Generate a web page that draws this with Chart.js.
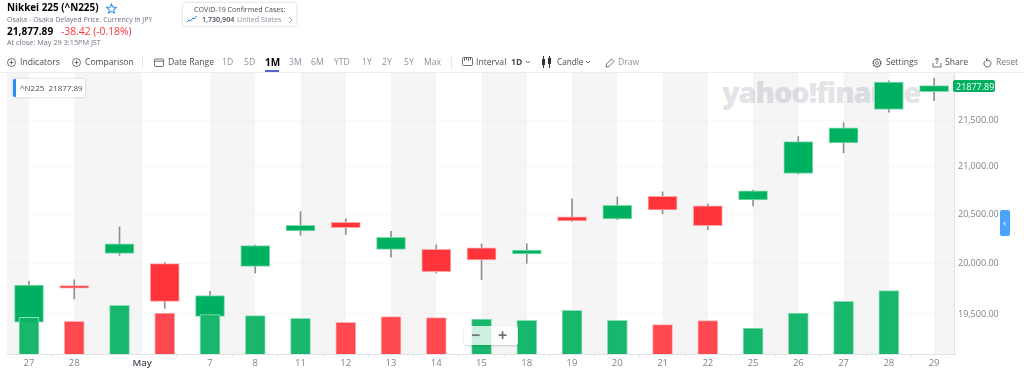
<!DOCTYPE html>
<html>
<head>
<meta charset="utf-8">
<title>Nikkei 225</title>
<script src="https://cdn.jsdelivr.net/npm/chart.js@4/dist/chart.umd.min.js"></script>
<style>
  html, body { margin: 0; padding: 0; background: #fff; }
  body { width: 1024px; height: 375px; overflow: hidden; position: relative; font-family: "Open Sans", sans-serif; color: #464e56; }
  #chart { position: absolute; left: 0; top: 0; z-index: 1; }
  .t { position: absolute; white-space: nowrap; z-index: 2; line-height: 1; }
  .tb { font-size: 8.6px; top: 57.5px; color: #464e56; }
  .rng { font-size: 8.6px; top: 57.5px; color: #8a939c; }
  svg { position: absolute; z-index: 2; overflow: visible; }
  #watermark { position: absolute; z-index: 0; left: 722px; top: 72px; font: 800 29px "Open Sans", sans-serif; letter-spacing: -1.1px; color: #e2e4e8; white-space: nowrap; }
  #rule { position: absolute; left: 0; top: 72px; width: 1024px; height: 1px; background: #ebedf0; z-index: 2; }
</style>
</head>
<body>
<div id="watermark">yahoo!finance</div>
<canvas id="chart" width="1024" height="375"></canvas>

<div class="t" style="left:7px;top:3px;font-size:9.900px;font-weight:700;color:#000">Nikkei 225 (^N225)</div>
<svg style="left:106px;top:3px" width="11" height="11" viewBox="0 0 24 24"><path d="M12 2l3 7 7.500 .6-5.700 4.900 1.800 7.300L12 18l-6.600 3.800 1.800-7.300L1.500 9.600 9 9z" fill="none" stroke="#2a8cf0" stroke-width="2.200"/></svg>
<div class="t" style="left:7px;top:15.500px;font-size:7px;color:#6c7580">Osaka - Osaka Delayed Price. Currency in JPY</div>
<div class="t" style="left:7px;top:25.500px;font-size:10.100px;font-weight:700;color:#000">21,877.89</div>
<div class="t" style="left:61px;top:25.500px;font-size:10.300px;color:#ff333a">-38.42 (-0.18%)</div>
<div class="t" style="left:7px;top:38.500px;font-size:7.300px;color:#6c7580">At close: May 29 3:15PM JST</div>

<div style="position:absolute;left:183px;top:3px;width:113px;height:23px;border-radius:2px;box-shadow:0 0 3px rgba(0,0,0,.22);z-index:2"></div>
<div class="t" style="left:194px;top:5.500px;font-size:7.100px;color:#464e56">COVID-19 Confirmed Cases:</div>
<svg style="left:187px;top:16px" width="10" height="7" viewBox="0 0 10 7"><path d="M0 6l2-2 1.500 1 2.500-3 1 1 2.500-3" fill="none" stroke="#2a7de1" stroke-width="1"/></svg>
<div class="t" style="left:202px;top:16px;font-size:7.100px;font-weight:600;color:#464e56">1,730,904</div>
<div class="t" style="left:237px;top:16px;font-size:7.100px;color:#8a939c">United States</div>
<svg style="left:288px;top:16px" width="5" height="8" viewBox="0 0 5 8"><path d="M1 1l3 3-3 3" fill="none" stroke="#a6adb5" stroke-width="1"/></svg>

<svg style="left:7px;top:58px" width="9" height="9" viewBox="0 0 9 9"><circle cx="4.500" cy="4.500" r="4" fill="none" stroke="#464e56" stroke-width=".8"/><path d="M4.500 2.500v4M2.500 4.500h4" stroke="#464e56" stroke-width=".8"/></svg>
<div class="t tb" style="left:20px">Indicators</div>
<svg style="left:72px;top:58px" width="9" height="9" viewBox="0 0 9 9"><circle cx="4.500" cy="4.500" r="4" fill="none" stroke="#464e56" stroke-width=".8"/><path d="M4.500 2.500v4M2.500 4.500h4" stroke="#464e56" stroke-width=".8"/></svg>
<div class="t tb" style="left:85px">Comparison</div>
<div style="position:absolute;left:142px;top:56px;width:1px;height:13px;background:#e6e8eb;z-index:2"></div>
<svg style="left:154px;top:58px" width="10" height="9" viewBox="0 0 10 9"><rect x=".5" y="1" width="9" height="7.500" rx="1" fill="none" stroke="#464e56" stroke-width=".8"/><path d="M.5 3.200h9" stroke="#464e56" stroke-width=".8"/></svg>
<div class="t tb" style="left:168px">Date Range</div>
<div class="t rng" style="left:222px">1D</div>
<div class="t rng" style="left:244px">5D</div>
<div class="t rng" style="left:265px;font-size:10px;top:57px;font-weight:700;color:#000">1M</div>
<div style="position:absolute;left:265px;top:70px;width:14px;height:2px;background:#5b5fcf;z-index:3"></div>
<div class="t rng" style="left:289px">3M</div>
<div class="t rng" style="left:311px">6M</div>
<div class="t rng" style="left:334px">YTD</div>
<div class="t rng" style="left:362px">1Y</div>
<div class="t rng" style="left:382px">2Y</div>
<div class="t rng" style="left:404px">5Y</div>
<div class="t rng" style="left:424px">Max</div>
<div style="position:absolute;left:451px;top:56px;width:1px;height:13px;background:#e6e8eb;z-index:2"></div>
<svg style="left:462px;top:57px" width="11" height="9" viewBox="0 0 11 9"><rect x=".5" y=".5" width="10" height="8" rx="1" fill="none" stroke="#464e56" stroke-width=".8"/><path d="M2.500 .5v3.500M4.500 .5v2.500M6.500 .5v3.500M8.500 .5v2.500" stroke="#464e56" stroke-width=".8"/></svg>
<div class="t tb" style="left:476px">Interval</div>
<div class="t tb" style="left:511px;font-weight:700">1D</div>
<svg style="left:525px;top:60px" width="6" height="4" viewBox="0 0 6 4"><path d="M1 1l2 2 2-2" fill="none" stroke="#464e56" stroke-width=".8"/></svg>
<svg style="left:541px;top:56px" width="11" height="12" viewBox="0 0 11 12"><path d="M2.500 0v12M8.500 0v12" stroke="#333" stroke-width="1"/><rect x="1" y="3" width="3" height="6" fill="#333"/><rect x="7" y="2" width="3" height="6" fill="#333"/></svg>
<div class="t tb" style="left:557px;font-size:8.200px;top:58px">Candle</div>
<svg style="left:585px;top:60px" width="6" height="4" viewBox="0 0 6 4"><path d="M1 1l2 2 2-2" fill="none" stroke="#464e56" stroke-width=".8"/></svg>
<svg style="left:605px;top:58px" width="10" height="10" viewBox="0 0 10 10"><path d="M1 9l.6-3L6.500 1l2.500 2.500-5 5z" fill="none" stroke="#464e56" stroke-width=".8"/></svg>
<div class="t rng" style="left:618px">Draw</div>

<svg style="left:872px;top:58px" width="10" height="10" viewBox="0 0 10 10"><circle cx="5" cy="5" r="3.800" fill="none" stroke="#464e56" stroke-width="1.400" stroke-dasharray="1.500 .6"/><circle cx="5" cy="5" r="1.500" fill="none" stroke="#464e56" stroke-width=".7"/></svg>
<div class="t tb" style="left:886px">Settings</div>
<svg style="left:932px;top:57px" width="10" height="11" viewBox="0 0 10 11"><path d="M5 7V1M3 3l2-2 2 2M1 6v4h8V6" fill="none" stroke="#464e56" stroke-width=".8"/></svg>
<div class="t tb" style="left:945px">Share</div>
<svg style="left:983px;top:57px" width="9" height="11" viewBox="0 0 9 11"><path d="M2 4a3.500 3.500 0 1 0 2.500-1H3M4.500 1L3 3l1.500 1.500" fill="none" stroke="#464e56" stroke-width=".9"/></svg>
<div class="t tb" style="left:996px;color:#6c7580">Reset</div>
<div id="rule"></div>

<div style="position:absolute;left:13px;top:79px;width:72px;height:18px;background:#fff;border-radius:2px;box-shadow:0 0 3px rgba(0,0,0,.2);z-index:2"></div>
<div style="position:absolute;left:13px;top:79px;width:3px;height:18px;background:#2a8cf0;border-radius:2px 0 0 2px;z-index:2"></div>
<div class="t" style="left:20px;top:84px;font-size:8px;color:#464e56">^N225&nbsp;&nbsp;21877.89</div>

<div style="position:absolute;left:953px;top:80px;width:42px;height:12px;background:#00b061;border-radius:2px;z-index:2"></div>
<div class="t" style="left:956px;top:81.500px;font-size:9px;color:#fff">21877.89</div>

<div style="position:absolute;left:464px;top:326px;width:54px;height:19px;background:rgba(255,255,255,.78);border-radius:2px;box-shadow:0 1px 2px rgba(0,0,0,.18);z-index:2"></div>
<div class="t" style="left:471px;top:327px;font-size:16px;font-weight:700;color:#6e7378">−</div>
<div class="t" style="left:498px;top:327px;font-size:16px;font-weight:700;color:#6e7378">+</div>

<div style="position:absolute;left:1000px;top:210px;width:10px;height:26px;background:#4aa3ff;border-radius:2px;z-index:2"></div>
<div class="t" style="left:1003px;top:218px;font-size:9px;color:#fff">‹</div>

<script>
// sessions
const sessions = ['Apr 27', 'Apr 28', 'Apr 30', 'May 1', 'May 7', 'May 8', 'May 11', 'May 12', 'May 13', 'May 14', 'May 15', 'May 18', 'May 19', 'May 20', 'May 21', 'May 22', 'May 25', 'May 26', 'May 27', 'May 28', 'May 29'];
const opens  = [19421, 19781, 20105, 20001, 19476, 19974, 20334, 20422, 20146, 20146, 20160, 20099, 20478, 20457, 20691, 20591, 20654, 20930, 21256, 21616, 21810];
const closes = [19787, 19755, 20201, 19624, 19681, 20183, 20391, 20367, 20268, 19920, 20038, 20139, 20436, 20598, 20550, 20388, 20748, 21270, 21418, 21916, 21879];
const highs  = [19823, 19839, 20375, 20014, 19725, 20190, 20532, 20457, 20329, 20190, 20201, 20201, 20664, 20685, 20737, 20612, 20755, 21324, 21472, 21930, 21957];
const lows   = [19415, 19648, 20085, 19555, 19470, 19907, 20288, 20296, 20065, 19907, 19840, 20004, 20430, 20450, 20509, 20347, 20591, 20925, 21149, 21587, 21711];
const volumes = [734, 654, 974, 820, 786, 766, 714, 634, 746, 726, 700, 674, 874, 674, 586, 666, 520, 820, 1054, 1266, null];

const xTickValues = [0, 1, 2.5, 4, 5, 6, 7, 8, 9, 10, 11, 12, 13, 14, 15, 16, 17, 18, 19, 20];
const xTickLabels = ['27', '28', 'May', '7', '8', '11', '12', '13', '14', '15', '18', '19', '20', '21', '22', '25', '26', '27', '28', '29'];
const yTicks = [19500, 20000, 20500, 21000, 21500];

const UP = '#00b061', DOWN = '#ff333a';
const FONT = '"Open Sans", sans-serif';
const xMin = -0.486, xMax = 20.44;

const isUp = opens.map((o, i) => closes[i] >= o);
// volume colour follows the close against the previous close
const volUp = closes.map((c, i) => i === 0 || c >= closes[i - 1]);

const bands = {
  id: 'bands',
  beforeDraw(chart) {
    const { ctx, chartArea, scales } = chart;
    const edges = [xMin, ...xTickValues, xMax];
    ctx.save();
    ctx.fillStyle = 'rgba(0,0,0,0.04)';
    for (let i = 0; i < edges.length - 1; i += 2) {
      const a = scales.x.getPixelForValue(edges[i]);
      const b = scales.x.getPixelForValue(edges[i + 1]);
      ctx.fillRect(a, chartArea.top, b - a, chartArea.bottom - chartArea.top);
    }
    ctx.restore();
  }
};

new Chart(document.getElementById('chart'), {
  type: 'bar',
  plugins: [bands],
  data: {
    datasets: [
      {
        label: 'Volume',
        yAxisID: 'vol',
        order: 1,
        data: volumes.map((v, i) => ({ x: i, y: v })),
        barThickness: 20,
        backgroundColor: volUp.map(u => u ? 'rgba(10,178,100,0.94)' : 'rgba(255,58,66,0.92)'),
        borderColor: volUp.map(u => u ? '#8fe0b8' : '#ffb0b3'),
        borderWidth: 1,
        grouped: false
      },
      {
        label: 'Body',
        yAxisID: 'y',
        order: 2,
        data: opens.map((o, i) => ({ x: i, y: [o, closes[i]] })),
        barThickness: 29,
        backgroundColor: isUp.map(u => u ? UP : DOWN),
        borderColor: isUp.map(u => u ? '#7fdcae' : '#ffa3a6'),
        borderWidth: 1,
        borderSkipped: false,
        grouped: false
      },
      {
        label: 'Wick',
        yAxisID: 'y',
        order: 3,
        data: lows.map((l, i) => ({ x: i, y: [l, highs[i]] })),
        barThickness: 1,
        backgroundColor: '#8f8f8f',
        grouped: false
      }
    ]
  },
  options: {
    responsive: false,
    animation: false,
    events: [],
    layout: { padding: { left: 7, top: 72, right: 0, bottom: 0 } },
    plugins: { legend: { display: false }, tooltip: { enabled: false } },
    scales: {
      x: {
        type: 'linear',
        min: xMin,
        max: xMax,
        offset: false,
        afterBuildTicks(scale) { scale.ticks = xTickValues.map(value => ({ value })); },
        afterFit(scale) { scale.height = 21; },
        grid: { drawOnChartArea: false, color: '#e1e4e8', tickLength: 3 },
        border: { color: '#dfe2e6' },
        ticks: {
          autoSkip: false,
          maxRotation: 0,
          padding: 1,
          callback: (v, i) => xTickLabels[i],
          color: c => xTickLabels[c.index] === 'May' ? '#464e56' : '#7c848c',
          font: c => ({ family: FONT, size: 9.5, weight: xTickLabels[c.index] === 'May' ? '600' : 'normal' })
        }
      },
      y: {
        type: 'logarithmic',
        position: 'right',
        min: 19111,
        max: 22028,
        afterBuildTicks(scale) { scale.ticks = yTicks.map(value => ({ value })); },
        afterFit(scale) { scale.width = 70; },
        grid: { color: 'rgba(0,0,0,0.025)', drawTicks: false },
        border: { color: '#dfe2e6' },
        ticks: {
          padding: 4,
          color: '#7c848c',
          font: { family: FONT, size: 9 },
          callback: v => v.toLocaleString('en-US', { minimumFractionDigits: 2 })
        }
      },
      vol: { type: 'linear', display: false, min: 0, max: 5640 }
    }
  }
});
</script>
</body>
</html>
